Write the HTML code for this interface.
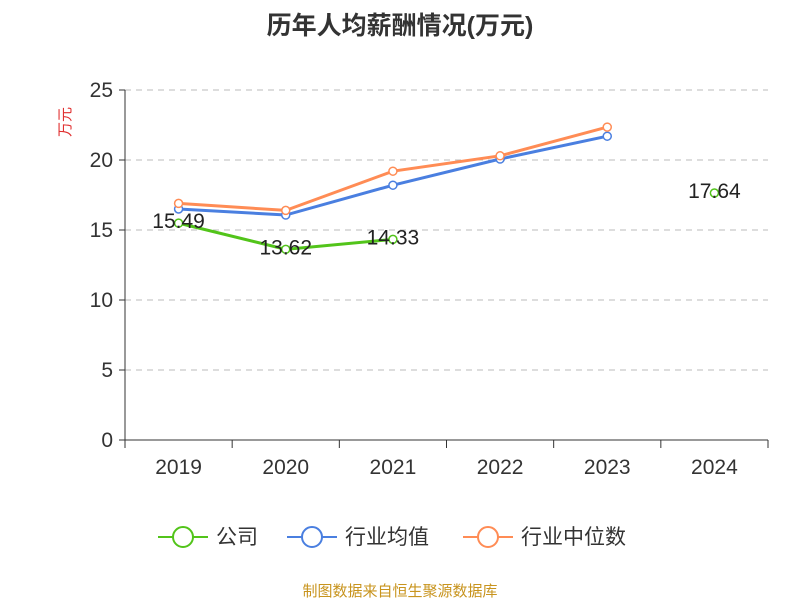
<!DOCTYPE html>
<html><head><meta charset="utf-8"><style>
body{margin:0;background:#fff;font-family:"Liberation Sans","Noto Sans CJK SC",sans-serif}
</style></head><body>
<svg id="c" width="800" height="600" xmlns="http://www.w3.org/2000/svg" font-family="Liberation Sans, Noto Sans CJK SC, sans-serif"></svg>
<script>
const categories=["2019","2020","2021","2022","2023","2024"];
const company=[15.49,13.62,14.33,null,null,17.64];
const industryAvg=[16.5,16.07,18.2,20.07,21.7,null];
const industryMedian=[16.9,16.4,19.2,20.3,22.35,null];
const yTicks=[0,5,10,15,20,25];
const NS="http://www.w3.org/2000/svg";
const svg=document.getElementById('c');
const L=125,R=768,T=90,B=440,yMax=25;
const bw=(R-L)/categories.length;
const x=i=>L+bw*(i+0.5);
const y=v=>B-(v/yMax)*(B-T);
function el(t,a,p){const e=document.createElementNS(NS,t);for(const k in a)e.setAttribute(k,a[k]);(p||svg).appendChild(e);return e;}
let t=el('text',{x:400,y:34,'text-anchor':'middle','font-size':25,'font-weight':'bold',fill:'#333'});t.textContent='历年人均薪酬情况(万元)';

t=el('text',{x:70,y:122,'text-anchor':'middle','font-size':15,fill:'#e03030',transform:'rotate(-90 70 122)'});t.textContent='万元';

yTicks.forEach(v=>{
 if(v>0){const g=el('line',{x1:L,x2:R,y1:y(v),y2:y(v),stroke:'#bbb','stroke-dasharray':'6,5'});}
 el('line',{x1:L-6,x2:L,y1:y(v),y2:y(v),stroke:'#333'});
 const tt=el('text',{x:L-12,y:y(v)+7,'text-anchor':'end','font-size':21,fill:'#333'});tt.textContent=v;
 
});
el('line',{x1:L,x2:L,y1:T,y2:B,stroke:'#333'});
el('line',{x1:L,x2:R,y1:B,y2:B,stroke:'#333'});
for(let i=0;i<=categories.length;i++)el('line',{x1:L+bw*i,x2:L+bw*i,y1:B,y2:B+8,stroke:'#333'});
categories.forEach((c,i)=>{const tt=el('text',{x:x(i),y:474,'text-anchor':'middle','font-size':21,fill:'#333'});tt.textContent=c;
 });
function series(data,color,name){
 const g=el('g',{});
 let d='',pen=false;
 data.forEach((v,i)=>{if(v==null){pen=false;return;}d+=(pen?'L':'M')+x(i)+','+y(v);pen=true;});
 el('path',{d,fill:'none',stroke:color,'stroke-width':3},g);
 data.forEach((v,i)=>{if(v==null)return;const c=el('circle',{cx:x(i),cy:y(v),r:4,fill:'#fff',stroke:color,'stroke-width':1.5},g);
  });
}
series(industryAvg,'#4a7fe0','industry-avg-line');
series(industryMedian,'#ff8c55','industry-median-line');
series(company,'#52c41a','company-line');
company.forEach((v,i)=>{if(v==null)return;const tt=el('text',{x:x(i),y:y(v)+5,'text-anchor':'middle','font-size':21,fill:'#222'});tt.textContent=v.toFixed(2);
 });
const leg=[['公司','#52c41a',158],['行业均值','#4a7fe0',287],['行业中位数','#ff8c55',463]];
leg.forEach(([n,c,lx])=>{const g=el('g',{});
 el('line',{x1:lx,x2:lx+50,y1:537,y2:537,stroke:c,'stroke-width':2},g);
 el('circle',{cx:lx+25,cy:537,r:10,fill:'#fff',stroke:c,'stroke-width':2},g);
 const tt=el('text',{x:lx+58,y:544,'font-size':21,fill:'#333'},g);tt.textContent=n;});
t=el('text',{x:400,y:596,'text-anchor':'middle','font-size':15,fill:'#c8941e'});t.textContent='制图数据来自恒生聚源数据库';

</script></body></html>
